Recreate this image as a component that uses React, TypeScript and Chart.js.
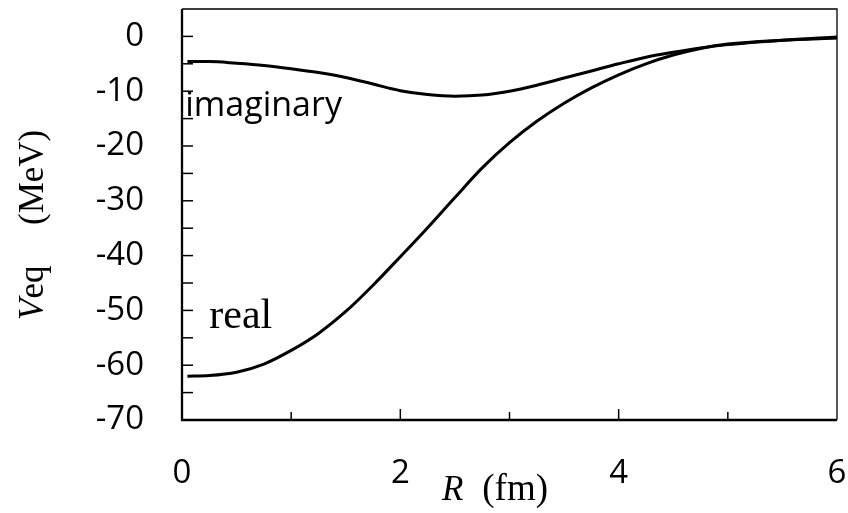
import { useEffect, useRef } from 'react';
import { Chart, registerables } from 'chart.js';

Chart.register(...registerables);

// Radial distance R (fm)
const rValues = [0.05, 0.25, 0.5, 0.75, 1.0, 1.25, 1.5, 1.75, 2.0, 2.25, 2.5, 2.75, 3.0, 3.25, 3.5, 3.75, 4.0, 4.25, 4.5, 4.75, 5.0, 5.5, 6.0];
// Real part of the equivalent potential (MeV)
const realValues = [-62.0, -61.9, -61.3, -59.8, -57.3, -54.2, -50.2, -45.4, -40.2, -34.9, -29.4, -24.0, -19.4, -15.5, -12.2, -9.4, -7.0, -5.0, -3.4, -2.2, -1.4, -0.7, -0.3];
// Imaginary part of the equivalent potential (MeV)
const imagValues = [-4.6, -4.6, -4.9, -5.3, -5.9, -6.6, -7.5, -8.7, -9.9, -10.6, -10.9, -10.7, -10.0, -8.9, -7.6, -6.3, -5.0, -3.8, -2.9, -2.1, -1.5, -0.7, -0.1];

const xTickLabels = [0, 2, 4, 6];
const yTickLabels = [0, -10, -20, -30, -40, -50, -60, -70];
const xTickMarks = [1, 2, 3, 4, 5];
const yTickMarks = [0, -5, -10, -15, -20, -25, -30, -35, -40, -45, -50, -55, -60, -65];

const SANS = '"Open Sans", "DejaVu Sans", sans-serif';
const SERIF = '"Liberation Serif", "DejaVu Serif", serif';

const framePlugin = {
  id: 'frame',
  afterDatasetsDraw(chart: any) {
    const { ctx, chartArea: a, scales } = chart;
    const x = scales.x;
    const y = scales.y;
    ctx.save();
    ctx.strokeStyle = '#000';
    ctx.lineCap = 'butt';

    // thin top and right edges
    ctx.lineWidth = 1.3;
    ctx.beginPath();
    ctx.moveTo(a.left, a.top);
    ctx.lineTo(a.right, a.top);
    ctx.lineTo(a.right, a.bottom);
    ctx.stroke();

    // heavier axis lines on the left and bottom
    ctx.lineWidth = 2.3;
    ctx.beginPath();
    ctx.moveTo(a.left, a.top);
    ctx.lineTo(a.left, a.bottom);
    ctx.lineTo(a.right, a.bottom);
    ctx.stroke();

    // inward tick marks
    ctx.lineWidth = 1.5;
    for (const v of yTickMarks) {
      const py = y.getPixelForValue(v);
      ctx.beginPath();
      ctx.moveTo(a.left, py);
      ctx.lineTo(a.left + 11, py);
      ctx.stroke();
    }
    for (const v of xTickMarks) {
      const px = x.getPixelForValue(v);
      const len = v % 2 === 0 ? 11 : 8;
      ctx.beginPath();
      ctx.moveTo(px, a.bottom);
      ctx.lineTo(px, a.bottom - len);
      ctx.stroke();
    }

    // curve labels
    ctx.fillStyle = '#000';
    ctx.textBaseline = 'alphabetic';
    ctx.textAlign = 'left';
    ctx.font = `34px ${SANS}`;
    ctx.fillText('imaginary', x.getPixelForValue(0.03), y.getPixelForValue(-14.5));
    ctx.font = `42px ${SERIF}`;
    ctx.fillText('real', x.getPixelForValue(0.25), y.getPixelForValue(-53.2));

    // x axis title: R (fm)
    const xBase = a.bottom + 80;
    ctx.font = `italic 35px ${SERIF}`;
    ctx.fillText('R', a.left + 260, xBase);
    ctx.font = `37px ${SERIF}`;
    ctx.textAlign = 'right';
    ctx.fillText('(fm)', a.left + 366, xBase);

    // y axis title: Veq (MeV), rotated
    ctx.save();
    ctx.translate(43, a.top + 311);
    ctx.rotate(-Math.PI / 2);
    ctx.textAlign = 'left';
    ctx.font = `italic 35px ${SERIF}`;
    ctx.fillText('V', 0, 0);
    const vw = ctx.measureText('V').width;
    ctx.font = `35px ${SERIF}`;
    ctx.fillText('eq', vw, 0);
    ctx.fillText('(MeV)', 95, 0);
    ctx.restore();

    ctx.restore();
  },
};

// keep the plot box at a fixed size: no extra room for overhanging labels
const clearPadding = (scale: any) => {
  scale.paddingLeft = 0;
  scale.paddingRight = 0;
  scale.paddingTop = 0;
  scale.paddingBottom = 0;
};

export default function App() {
  const canvasRef = useRef<HTMLCanvasElement | null>(null);

  useEffect(() => {
    if (!canvasRef.current) return;
    const chart = new Chart(canvasRef.current, {
      type: 'line',
      data: {
        datasets: [
          {
            label: 'real',
            data: rValues.map((r, i) => ({ x: r, y: realValues[i] })),
            borderColor: '#000',
            borderWidth: 3,
            pointRadius: 0,
            fill: false,
            cubicInterpolationMode: 'monotone',
          },
          {
            label: 'imaginary',
            data: rValues.map((r, i) => ({ x: r, y: imagValues[i] })),
            borderColor: '#000',
            borderWidth: 3,
            pointRadius: 0,
            fill: false,
            cubicInterpolationMode: 'monotone',
          },
        ],
      },
      options: {
        animation: false,
        responsive: true,
        maintainAspectRatio: false,
        layout: { padding: { top: 9, right: 11, left: 0, bottom: 0 } },
        plugins: {
          legend: { display: false },
          tooltip: { enabled: false },
          title: { display: false },
        },
        scales: {
          x: {
            type: 'linear',
            min: 0,
            max: 6,
            grid: { display: false },
            border: { display: false },
            afterBuildTicks: (scale: any) => {
              scale.ticks = xTickLabels.map((value) => ({ value }));
            },
            afterFit: (scale: any) => {
              scale.height = 93;
              clearPadding(scale);
            },
            ticks: {
              color: '#000',
              padding: 26,
              maxRotation: 0,
              font: { family: SANS, size: 33 },
              callback: (v: any) => String(v),
            },
          },
          y: {
            type: 'linear',
            min: -70,
            max: 5,
            grid: { display: false },
            border: { display: false },
            afterBuildTicks: (scale: any) => {
              scale.ticks = yTickLabels.map((value) => ({ value }));
            },
            afterFit: (scale: any) => {
              scale.width = 182;
              clearPadding(scale);
            },
            ticks: {
              color: '#000',
              padding: 30,
              font: { family: SANS, size: 33 },
              callback: (v: any) => String(v),
            },
          },
        },
      },
      plugins: [framePlugin],
    });
    return () => chart.destroy();
  }, []);

  return (
    <div style={{ position: 'absolute', left: 0, top: 0, width: 848, height: 513, background: '#fff' }}>
      <canvas ref={canvasRef} />
    </div>
  );
}
